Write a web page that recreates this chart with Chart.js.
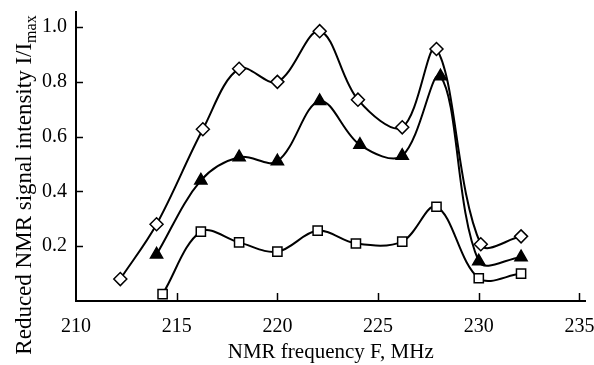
<!DOCTYPE html>
<html>
<head>
<meta charset="utf-8">
<script src="https://cdn.jsdelivr.net/npm/chart.js@4"></script>
<style>
  html, body { margin: 0; padding: 0; background: #fff; }
  #wrap { width: 594px; height: 365px; position: relative; }
</style>
</head>
<body>
<div id="wrap"><canvas id="nmr"></canvas></div>
<script>
// Data
const freqDiamond = [212.2, 214, 216.3, 218.1, 220, 222.1, 224, 226.2, 227.9, 230.1, 232.1];
const diamondVals = [0.08, 0.28, 0.627, 0.848, 0.80, 0.985, 0.735, 0.634, 0.92, 0.207, 0.236];
const freqTriangle = [214, 216.2, 218.1, 220, 222.1, 224.1, 226.2, 228.1, 230, 232.1];
const triangleVals = [0.17, 0.44, 0.525, 0.51, 0.73, 0.57, 0.53, 0.82, 0.145, 0.16];
const freqSquare = [214.3, 216.2, 218.1, 220, 222, 223.9, 226.2, 227.9, 230, 232.1];
const squareVals = [0.025, 0.253, 0.214, 0.18, 0.257, 0.21, 0.217, 0.344, 0.083, 0.10];
const xTicks = [210, 215, 220, 225, 230, 235];
const yTicks = [0.2, 0.4, 0.6, 0.8, 1.0];

const toPoints = (xs, ys) => xs.map((x, i) => ({ x, y: ys[i] }));
const serif = "'Liberation Serif', 'Times New Roman', serif";

// Inward tick marks + rotated y title with subscript
const axisDecor = {
  id: 'axisDecor',
  afterDraw(c) {
    const { ctx, chartArea } = c;
    const xs = c.scales.x;
    const ys = c.scales.y;
    ctx.save();
    ctx.strokeStyle = '#000';
    ctx.lineWidth = 1.5;
    xTicks.slice(1).forEach((v) => {
      const px = Math.round(xs.getPixelForValue(v)) + 0.5;
      ctx.beginPath();
      ctx.moveTo(px, chartArea.bottom);
      ctx.lineTo(px, chartArea.bottom - 8);
      ctx.stroke();
    });
    yTicks.forEach((v) => {
      const py = Math.round(ys.getPixelForValue(v)) + 0.5;
      ctx.beginPath();
      ctx.moveTo(chartArea.left, py);
      ctx.lineTo(chartArea.left + 7, py);
      ctx.stroke();
    });
    // y title
    const main = 'Reduced NMR signal intensity I/I';
    const sub = 'max';
    ctx.fillStyle = '#000';
    ctx.font = '23px ' + serif;
    const wMain = ctx.measureText(main).width;
    ctx.font = '16px ' + serif;
    const wSub = ctx.measureText(sub).width;
    const total = wMain + wSub;
    ctx.translate(31, 185);
    ctx.rotate(-Math.PI / 2);
    ctx.textBaseline = 'alphabetic';
    ctx.textAlign = 'left';
    ctx.font = '23px ' + serif;
    ctx.fillText(main, -total / 2, 0);
    ctx.font = '16px ' + serif;
    ctx.fillText(sub, -total / 2 + wMain, 5);
    ctx.restore();
  },
};

const lineSet = (label, data, style, radius, fill) => ({
  label,
  data,
  borderColor: '#000',
  borderWidth: 2,
  tension: 0.35,
  pointStyle: style,
  pointRadius: radius,
  pointBorderWidth: 1.5,
  pointBorderColor: '#000',
  pointBackgroundColor: fill,
  fill: false,
});

new Chart(document.getElementById('nmr'), {
  type: 'line',
  data: {
    datasets: [
      lineSet('diamond', toPoints(freqDiamond, diamondVals), 'rectRot', 6.5, '#fff'),
      lineSet('triangle', toPoints(freqTriangle, triangleVals), 'triangle', 7, '#000'),
      lineSet('square', toPoints(freqSquare, squareVals), 'rect', 6.5, '#fff'),
    ],
  },
  options: {
    responsive: true,
    maintainAspectRatio: false,
    animation: false,
    layout: {
      padding: { top: 12, right: 4, left: 0, bottom: 0 },
    },
    scales: {
      x: {
        type: 'linear',
        min: 210,
        max: 235.3,
        afterBuildTicks: (s) => { s.ticks = xTicks.map((v) => ({ value: v })); },
        afterFit: (s) => {
          s.height = 64;
          s.paddingLeft = 0;
          s.paddingRight = 0;
        },
        grid: { display: false, drawTicks: false },
        border: { display: true, color: '#000', width: 2 },
        ticks: {
          color: '#000',
          font: { family: serif, size: 20 },
          padding: 14,
          maxRotation: 0,
        },
        title: {
          display: true,
          text: 'NMR frequency F, MHz',
          color: '#000',
          font: { family: serif, size: 21 },
          padding: { top: 0, bottom: 0 },
        },
      },
      y: {
        min: 0,
        max: 1.055,
        afterBuildTicks: (s) => { s.ticks = yTicks.map((v) => ({ value: v })); },
        afterFit: (s) => {
          s.width = 76;
          s.paddingTop = 0;
          s.paddingBottom = 0;
        },
        grid: { display: false, drawTicks: false },
        border: { display: true, color: '#000', width: 2 },
        ticks: {
          color: '#000',
          font: { family: serif, size: 20 },
          padding: 9,
          callback: (v) => v.toFixed(1),
        },
      },
    },
    plugins: {
      legend: { display: false },
      tooltip: { enabled: false },
    },
  },
  plugins: [axisDecor],
});
</script>
</body>
</html>
